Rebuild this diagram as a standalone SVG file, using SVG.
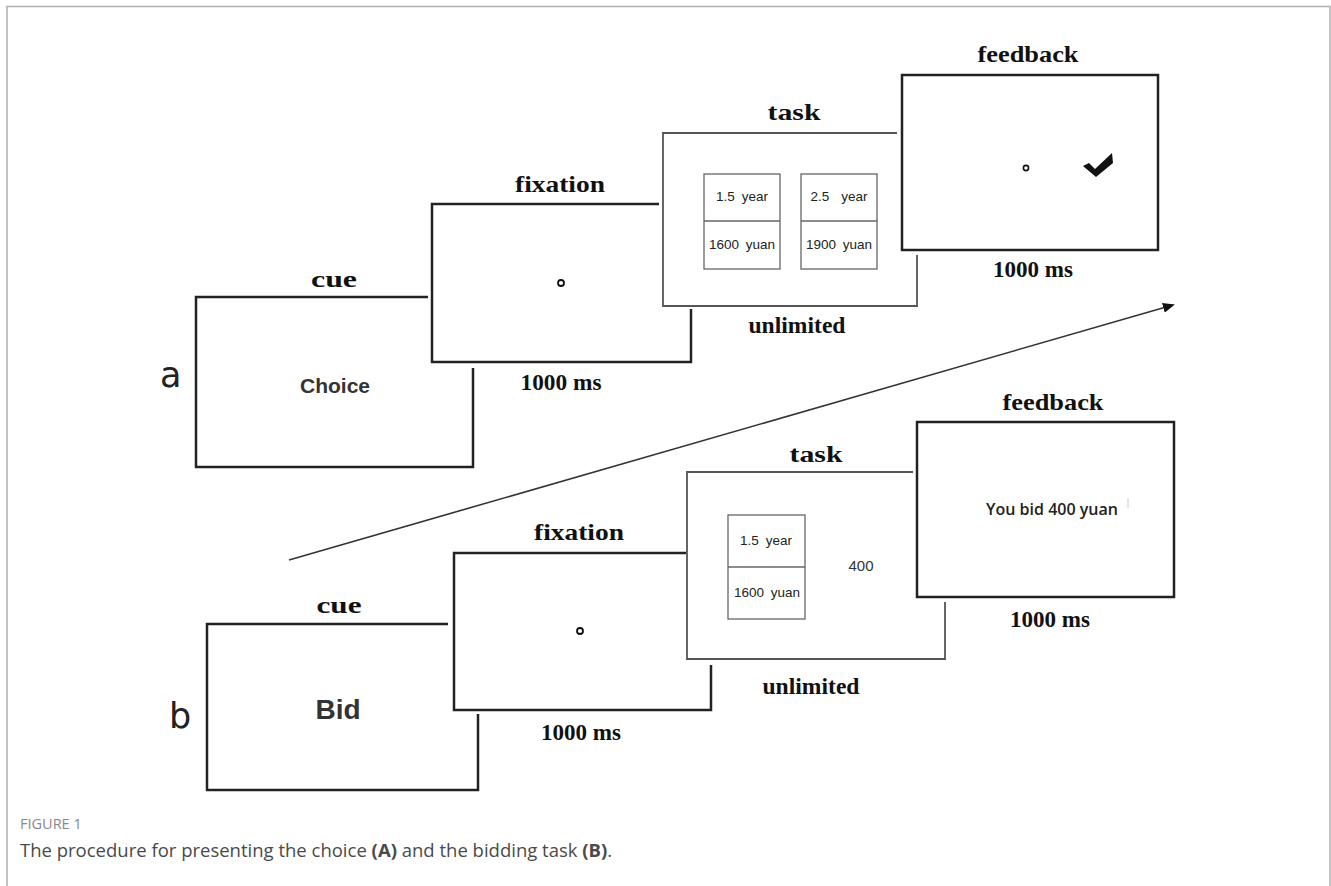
<svg xmlns="http://www.w3.org/2000/svg" width="1331" height="886" viewBox="0 0 1331 886">
<style>
.frame{fill:none;stroke:#222;stroke-width:2.5}
.tframe{fill:none;stroke:#555;stroke-width:1.8}
.inner{fill:none;stroke:#666;stroke-width:1.3}
.lbl{font-family:"Liberation Serif","Times New Roman",serif;font-weight:bold;font-size:23px;fill:#111;text-anchor:middle}
.sans{font-family:"Liberation Sans",Arial,sans-serif;fill:#333;text-anchor:middle}
.small{font-size:13.5px;word-spacing:3px;fill:#222}
.dot{fill:#fff;stroke:#111;stroke-width:1.8}
.row{font-family:"DejaVu Sans",sans-serif;font-size:35px;fill:#222}
.cap{font-family:"Open Sans","Noto Sans",sans-serif}
</style>
<defs>
<marker id="ah" markerWidth="12" markerHeight="10" refX="10" refY="5" orient="auto" markerUnits="userSpaceOnUse">
<path d="M0,0 L12,5 L0,10 Z" fill="#111"/>
</marker>
</defs>
<rect width="1331" height="886" fill="#fff"/>
<path d="M7,886 V6.5 H1330 V886" fill="none" stroke="#b0b0b0" stroke-width="1.5"/>

<g id="connectors">
<line x1="289" y1="560" x2="1173" y2="305" stroke="#333" stroke-width="1.6" marker-end="url(#ah)"/>
</g>

<text class="row" x="160" y="387">a</text>
<text class="row" x="169" y="728">b</text>

<g id="a-cue">
<path class="frame" d="M428,297 H196 V467 H473 V368"/>
<text class="lbl" x="334" y="287" textLength="46" lengthAdjust="spacingAndGlyphs">cue</text>
<text class="sans" x="335" y="393" font-size="21" font-weight="bold" fill="#222">Choice</text>
</g>
<g id="a-fixation">
<path class="frame" d="M659,204 H432 V362 H691 V309"/>
<text class="lbl" x="560" y="192" textLength="90" lengthAdjust="spacingAndGlyphs">fixation</text>
<circle class="dot" cx="561" cy="283" r="3"/>
<text class="lbl" x="561" y="390" textLength="81" lengthAdjust="spacingAndGlyphs">1000 ms</text>
</g>
<g id="a-task">
<path class="tframe" d="M897,133 H663 V306 H917 V255"/>
<text class="lbl" x="794" y="120" textLength="53" lengthAdjust="spacingAndGlyphs">task</text>
<rect class="inner" x="704" y="174" width="76" height="95"/>
<line class="inner" x1="704" y1="221" x2="780" y2="221"/>
<rect class="inner" x="801" y="174" width="76" height="95"/>
<line class="inner" x1="801" y1="221" x2="877" y2="221"/>
<text class="sans small" x="742" y="201">1.5 year</text>
<text class="sans small" x="742" y="249">1600 yuan</text>
<text class="sans small" x="839" y="201" style="word-spacing:8px">2.5 year</text>
<text class="sans small" x="839" y="249">1900 yuan</text>
<text class="lbl" x="797" y="333" textLength="97" lengthAdjust="spacingAndGlyphs">unlimited</text>
</g>
<g id="a-feedback">
<rect class="frame" x="902" y="75" width="256" height="175"/>
<text class="lbl" x="1028" y="62" textLength="101" lengthAdjust="spacingAndGlyphs">feedback</text>
<circle class="dot" cx="1026" cy="168" r="2.6" style="stroke-width:1.6"/>
<polygon points="1083,166 1089,163 1095,169 1112,153 1113,163 1096,177" fill="#111"/>
<text class="lbl" x="1033" y="277" textLength="80" lengthAdjust="spacingAndGlyphs">1000 ms</text>
</g>

<g id="b-cue">
<path class="frame" d="M448,624 H207 V790 H478 V714"/>
<text class="lbl" x="339" y="613" textLength="45" lengthAdjust="spacingAndGlyphs">cue</text>
<text class="sans" x="338" y="719" font-size="28" font-weight="bold" fill="#222">Bid</text>
</g>
<g id="b-fixation">
<path class="frame" d="M686,553 H454 V710 H711 V665"/>
<text class="lbl" x="579" y="540" textLength="90" lengthAdjust="spacingAndGlyphs">fixation</text>
<circle class="dot" cx="580" cy="631" r="3"/>
<text class="lbl" x="581" y="740" textLength="80" lengthAdjust="spacingAndGlyphs">1000 ms</text>
</g>
<g id="b-task">
<path class="tframe" d="M913,472 H687 V659 H945 V602"/>
<text class="lbl" x="816" y="462" textLength="53" lengthAdjust="spacingAndGlyphs">task</text>
<rect class="inner" x="728" y="515" width="77" height="104"/>
<line class="inner" x1="728" y1="567" x2="805" y2="567"/>
<text class="sans small" x="766" y="545">1.5 year</text>
<text class="sans small" x="767" y="597">1600 yuan</text>
<text class="sans" x="861" y="571" font-size="15" fill="#222">400</text>
<text class="lbl" x="811" y="694" textLength="97" lengthAdjust="spacingAndGlyphs">unlimited</text>
</g>
<g id="b-feedback">
<rect class="frame" x="917" y="422" width="257" height="175"/>
<text class="lbl" x="1053" y="410" textLength="101" lengthAdjust="spacingAndGlyphs">feedback</text>
<text class="cap" x="1052" y="515" font-size="16" font-weight="600" fill="#222" text-anchor="middle">You bid 400 yuan</text>
<line x1="1128" y1="498" x2="1128" y2="508" stroke="#ccc" stroke-width="1"/>
<text class="lbl" x="1050" y="627" textLength="80" lengthAdjust="spacingAndGlyphs">1000 ms</text>
</g>

<g id="caption">
<text class="cap" x="20" y="829" font-size="14.5" fill="#888">FIGURE 1</text>
<text class="cap" x="20" y="857" font-size="18.5" fill="#4a4a4a">The procedure for presenting the choice <tspan font-weight="bold">(A)</tspan> and the bidding task <tspan font-weight="bold">(B)</tspan>.</text>
</g>
</svg>
